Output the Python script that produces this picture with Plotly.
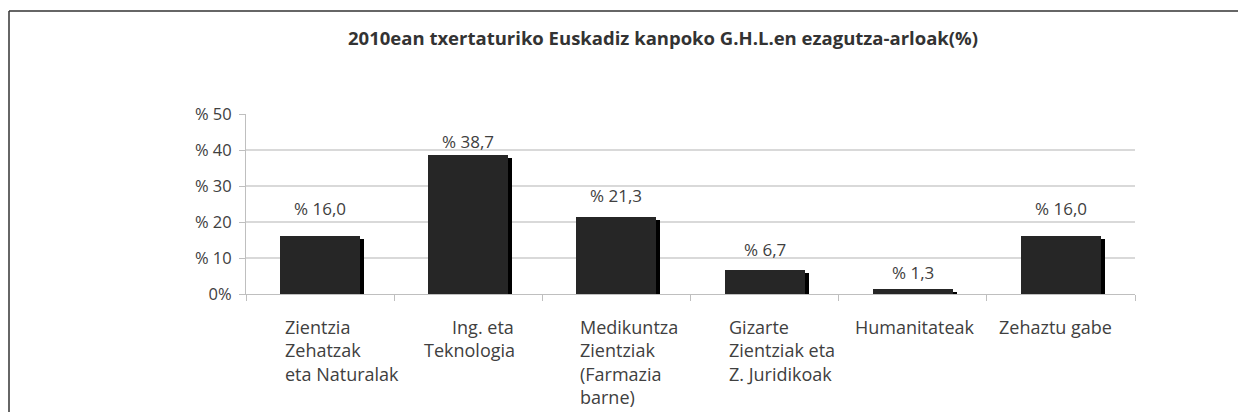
import plotly.graph_objects as go

# ---- data ----
categories = [
    "Zientzia<br>Zehatzak<br>eta Naturalak",
    "\u00a0\u00a0\u00a0\u00a0\u00a0\u00a0Ing. eta<br>Teknologia",
    "Medikuntza<br>Zientziak<br>(Farmazia<br>barne)",
    "Gizarte<br>Zientziak eta<br>Z. Juridikoak",
    "Humanitateak",
    "Zehaztu gabe",
]
values = [16.0, 38.7, 21.3, 6.7, 1.3, 16.0]
value_labels = ["% 16,0", "% 38,7", "% 21,3", "% 6,7", "% 1,3", "% 16,0"]
y_tickvals = [0, 10, 20, 30, 40, 50]
y_ticktext = ["0%", "% 10", "% 20", "% 30", "% 40", "% 50"]
title_text = "2010ean txertaturiko Euskadiz kanpoko G.H.L.en ezagutza-arloak(%)"

# ---- styling (page pixel coords; the html body has an 8px margin) ----
OFF = 8
W, H = 1230, 404
PX_L, PX_R, PX_T, PX_B = 246, 1135, 114, 294   # plot area in page pixels
L = PX_L - OFF
T = PX_T - OFF
R = (OFF + W) - PX_R
B = (OFF + H) - PX_B
plot_w = PX_R - PX_L
plot_h = PX_B - PX_T
cat_px = plot_w / len(categories)
FONT = "'Open Sans', sans-serif"
TXT = "#404040"
label_offsets_px = [37, 28, 36, 36, 14, 10]       # left edge of category label from category boundary
value_label_gap_px = [28, 13, 22, 20, 17, 28]     # gap from bar top to label centre
bar_width = 0.54
shadow_dx = 4 / cat_px
shadow_dy = 3 * 50 / plot_h


def px_to_paper_x(px):
    return (px - PX_L) / plot_w


def px_to_paper_y(py):
    return (PX_B - py) / plot_h


xs = list(range(len(values)))

fig = go.Figure()
# shadow
fig.add_trace(go.Bar(
    x=[x + shadow_dx for x in xs],
    y=[max(v - shadow_dy, 0) for v in values],
    width=bar_width,
    marker=dict(color="#000000", line=dict(width=0)),
    hoverinfo="skip",
    showlegend=False,
))
# main bars
fig.add_trace(go.Bar(
    x=xs,
    y=values,
    width=bar_width,
    marker=dict(color="#262626", line=dict(width=0)),
    showlegend=False,
))

annotations = []
for i, (v, lab) in enumerate(zip(values, value_labels)):
    annotations.append(dict(
        x=i, y=v, xref="x", yref="y", text=lab, showarrow=False,
        yshift=value_label_gap_px[i], yanchor="middle", xanchor="center",
        font=dict(family=FONT, size=17, color=TXT),
    ))
for i, cat in enumerate(categories):
    annotations.append(dict(
        x=i - 0.5 + label_offsets_px[i] / cat_px, y=0, xref="x", yref="y",
        text=cat, showarrow=False, align="left",
        xanchor="left", yanchor="top", yshift=-19,
        font=dict(family=FONT, size=18, color=TXT),
    ))
annotations.append(dict(
    x=px_to_paper_x(663), y=px_to_paper_y(37), xref="paper", yref="paper",
    text="<b>" + title_text + "</b>", showarrow=False,
    xanchor="center", yanchor="middle",
    font=dict(family=FONT, size=18.5, color="#333333"),
))

fig.update_layout(
    width=W, height=H,
    margin=dict(l=L, r=R, t=T, b=B, pad=0),
    paper_bgcolor="white", plot_bgcolor="white",
    bargap=0, barmode="overlay",
    annotations=annotations,
    shapes=[
        dict(type="line", xref="paper", yref="paper",
             x0=px_to_paper_x(9), x1=px_to_paper_x(9),
             y0=px_to_paper_y(11), y1=px_to_paper_y(440),
             line=dict(color="#333333", width=1.5)),
        dict(type="line", xref="paper", yref="paper",
             x0=px_to_paper_x(9), x1=px_to_paper_x(1260),
             y0=px_to_paper_y(11), y1=px_to_paper_y(11),
             line=dict(color="#333333", width=1.5)),
    ],
)
fig.update_xaxes(
    range=[-0.5, len(values) - 0.5],
    tickvals=[i - 0.5 for i in range(len(values) + 1)],
    ticktext=[""] * (len(values) + 1),
    ticks="outside", ticklen=6, tickcolor="#bfbfbf",
    showgrid=False, zeroline=False,
    showline=True, linecolor="#bfbfbf", linewidth=1,
    fixedrange=True,
)
fig.update_yaxes(
    range=[0, 50],
    tickvals=y_tickvals, ticktext=y_ticktext,
    ticks="outside", ticklen=6, tickcolor="#bfbfbf",
    tickfont=dict(family=FONT, size=16.5, color=TXT),
    ticklabelstandoff=4,
    showgrid=True, gridcolor="#d9d9d9", gridwidth=1.5,
    zeroline=False,
    showline=True, linecolor="#bfbfbf", linewidth=1,
    fixedrange=True,
)

fig.write_html("out.html")
